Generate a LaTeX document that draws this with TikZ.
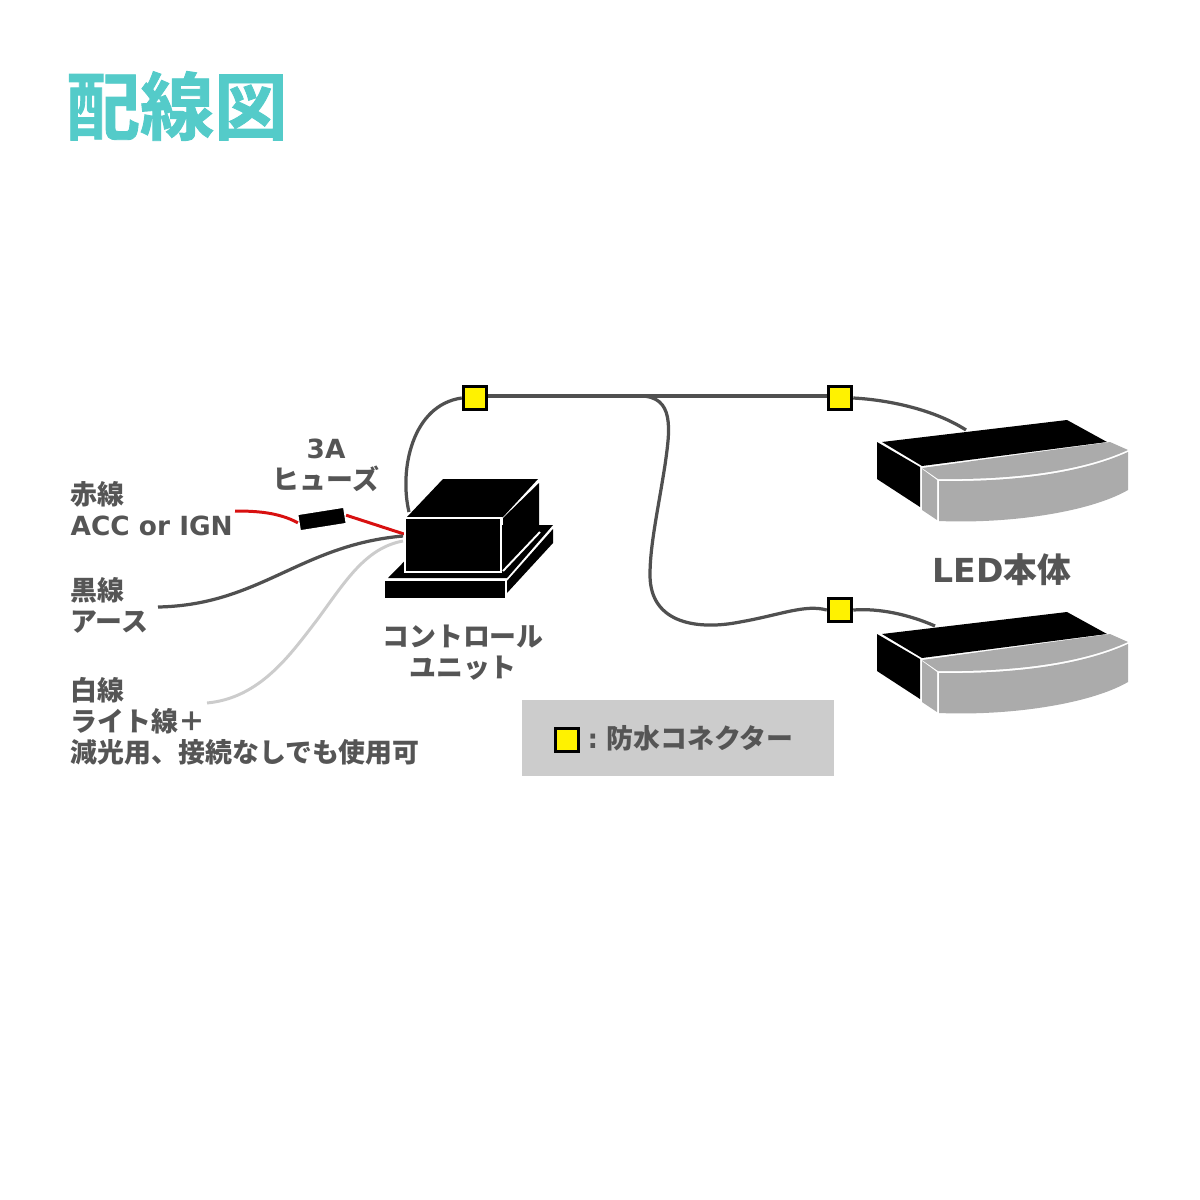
\documentclass[tikz,border=0pt]{standalone}
\usepackage{fontspec}
\setmainfont{DejaVu Sans}[Scale=0.98]
\newfontfamily\jpfont{Noto Sans CJK JP}
\newfontfamily\titlefont{Noto Sans CJK JP Bold}[FakeBold=1.2]
\definecolor{wiregray}{HTML}{505050}
\definecolor{textgray}{HTML}{555555}
\definecolor{ledgray}{HTML}{ABABAB}
\definecolor{teal}{HTML}{54CBC9}
\definecolor{wirered}{HTML}{D81010}
\tikzset{
  lab/.style={inner sep=0pt,text=textgray,align=left,font=\fontsize{7.65}{8.85}\selectfont\bfseries\jpfont},
  wire/.style={draw=wiregray,line width=0.92pt},
  redwire/.style={draw=wirered,line width=0.85pt},
  conn/.style={draw=black,fill=yellow,line width=0.85pt,minimum size=0.235cm,inner sep=0pt}
}
\begin{document}
\begin{tikzpicture}[x=0.01cm,y=-0.01cm]
      \useasboundingbox (0,0) rectangle (1200,1200);

      % Title
      \node[inner sep=0pt,text=teal,font=\fontsize{21}{24}\selectfont\titlefont] (title) at (177,106) {配線図};

      % Legend background
      \fill[black!20] (522,700) rectangle (834,776);

      % Free wire ends
      \coordinate (unitTop) at (409,512);
      \coordinate (unitRed) at (404,534);
      \coordinate (unitBlack) at (403,536);
      \coordinate (unitWhite) at (403,541);
      \coordinate (redEnd) at (235,511);
      \coordinate (blackEnd) at (158,607);
      \coordinate (whiteEnd) at (207,703);
      \coordinate (ledOne) at (966,430);
      \coordinate (ledTwo) at (935,626);
      \coordinate (branch) at (640,396);

      % Waterproof connectors
      \node[conn] (connA) at (475,398) {};
      \node[conn] (connB) at (840,398) {};
      \node[conn] (connC) at (840,610) {};
      \node[conn] (connKey) at (567,740) {};

      % Wires to the LED units
      \draw[wire] (unitTop) .. controls (399,470) and (412,405) .. (connA.west);
      \draw[wire] ([yshift=0.02cm]connA.east) -- ([yshift=0.02cm]connB.west);
      \draw[wire] (branch) .. controls (675,396) and (670,430) .. (665,465)
        .. controls (658,510) and (650,545) .. (650,575)
        .. controls (650,625) and (700,630) .. (740,622)
        .. controls (780,615) and (805,604) .. (connC.west);
      \draw[wire] (connB.east) .. controls (890,400) and (935,410) .. (ledOne);
      \draw[wire] (connC.east) .. controls (880,608) and (910,615) .. (ledTwo);

      % Fuse on the red wire
      \node[fill=black,draw=white,line width=0.5pt,rotate=9,minimum width=0.47cm,minimum height=0.17cm,inner sep=0pt] (fuse) at (322,519) {};
      \draw[redwire] (redEnd) .. controls (255,511) and (278,512) .. (fuse.west);
      \draw[redwire] (fuse.east) -- (unitRed);
      \draw[wire] (blackEnd) .. controls (260,605) and (300,545) .. (unitBlack);
      \draw[black!20,line width=0.85pt] (whiteEnd) .. controls (260,698) and (290,655) .. (317,620)
        .. controls (345,582) and (365,548) .. (unitWhite);

      % Control unit, base first
      \fill (388,578) -- (440,525) -- (553,525) -- (507,578) -- cycle;
      \fill (385,581) rectangle (505,598);
      \fill (507,581) -- (553,529) -- (553,543) -- (507,593) -- cycle;
      \fill (407,517) -- (443,479) -- (538,479) -- (503,517) -- cycle;
      \fill[draw=white,line width=0.55pt] (405,518) rectangle (501,572);
      \fill (503,518) -- (539,483) -- (539,530) -- (503,570) -- cycle;
      \draw[white,line width=0.55pt] (503,571) -- (540,532);

      % LED units
      \foreach \dy in {0,192} {
        \begin{scope}[shift={(0,\dy)}]
          \fill (877,442) -- (920,467) -- (920,507) -- (877,479) -- cycle;
          \fill (882,442) -- (1067,420) -- (1107,442) -- (922,466) -- cycle;
          \fill[ledgray] (922,468) -- (1110,442) -- (1128,450) .. controls (1080,472) and (1010,480) .. (938,479) -- cycle;
          \fill[ledgray] (939,481) .. controls (1010,482) and (1080,474) .. (1128,452) -- (1128,490) .. controls (1090,512) and (1010,524) .. (939,521) -- cycle;
          \fill[ledgray] (922,469) -- (937,480) -- (937,520) -- (922,510) -- cycle;
        \end{scope}
      }

      % Labels
      \node[lab,anchor=west] (fuseAmp) at (306,449) {{\rmfamily 3A}};
      \node[lab,anchor=west] (fuseLabel) at (272,479) {ヒューズ};
      \node[lab,anchor=north west] (redLabel) at (70,480.5) {赤線\\{\rmfamily ACC or IGN}};
      \node[lab,anchor=north west] (blackLabel) at (70,576.5) {黒線\\アース};
      \node[lab,anchor=north west] (whiteLabel) at (70,676.5) {白線\\ライト線＋\\減光用、接続なしでも使用可};
      \node[lab,align=center] (unitLabel) at (463,652.5) {コントロール\\ユニット};
      \node[lab,font=\fontsize{9.6}{10}\selectfont\bfseries\jpfont] (ledLabel) at (1002,570) {{\rmfamily LED}本体};
      \node[lab,anchor=west] (keyLabel) at (587,738) {{\rmfamily :} 防水コネクター};
    \end{tikzpicture}
\end{document}
